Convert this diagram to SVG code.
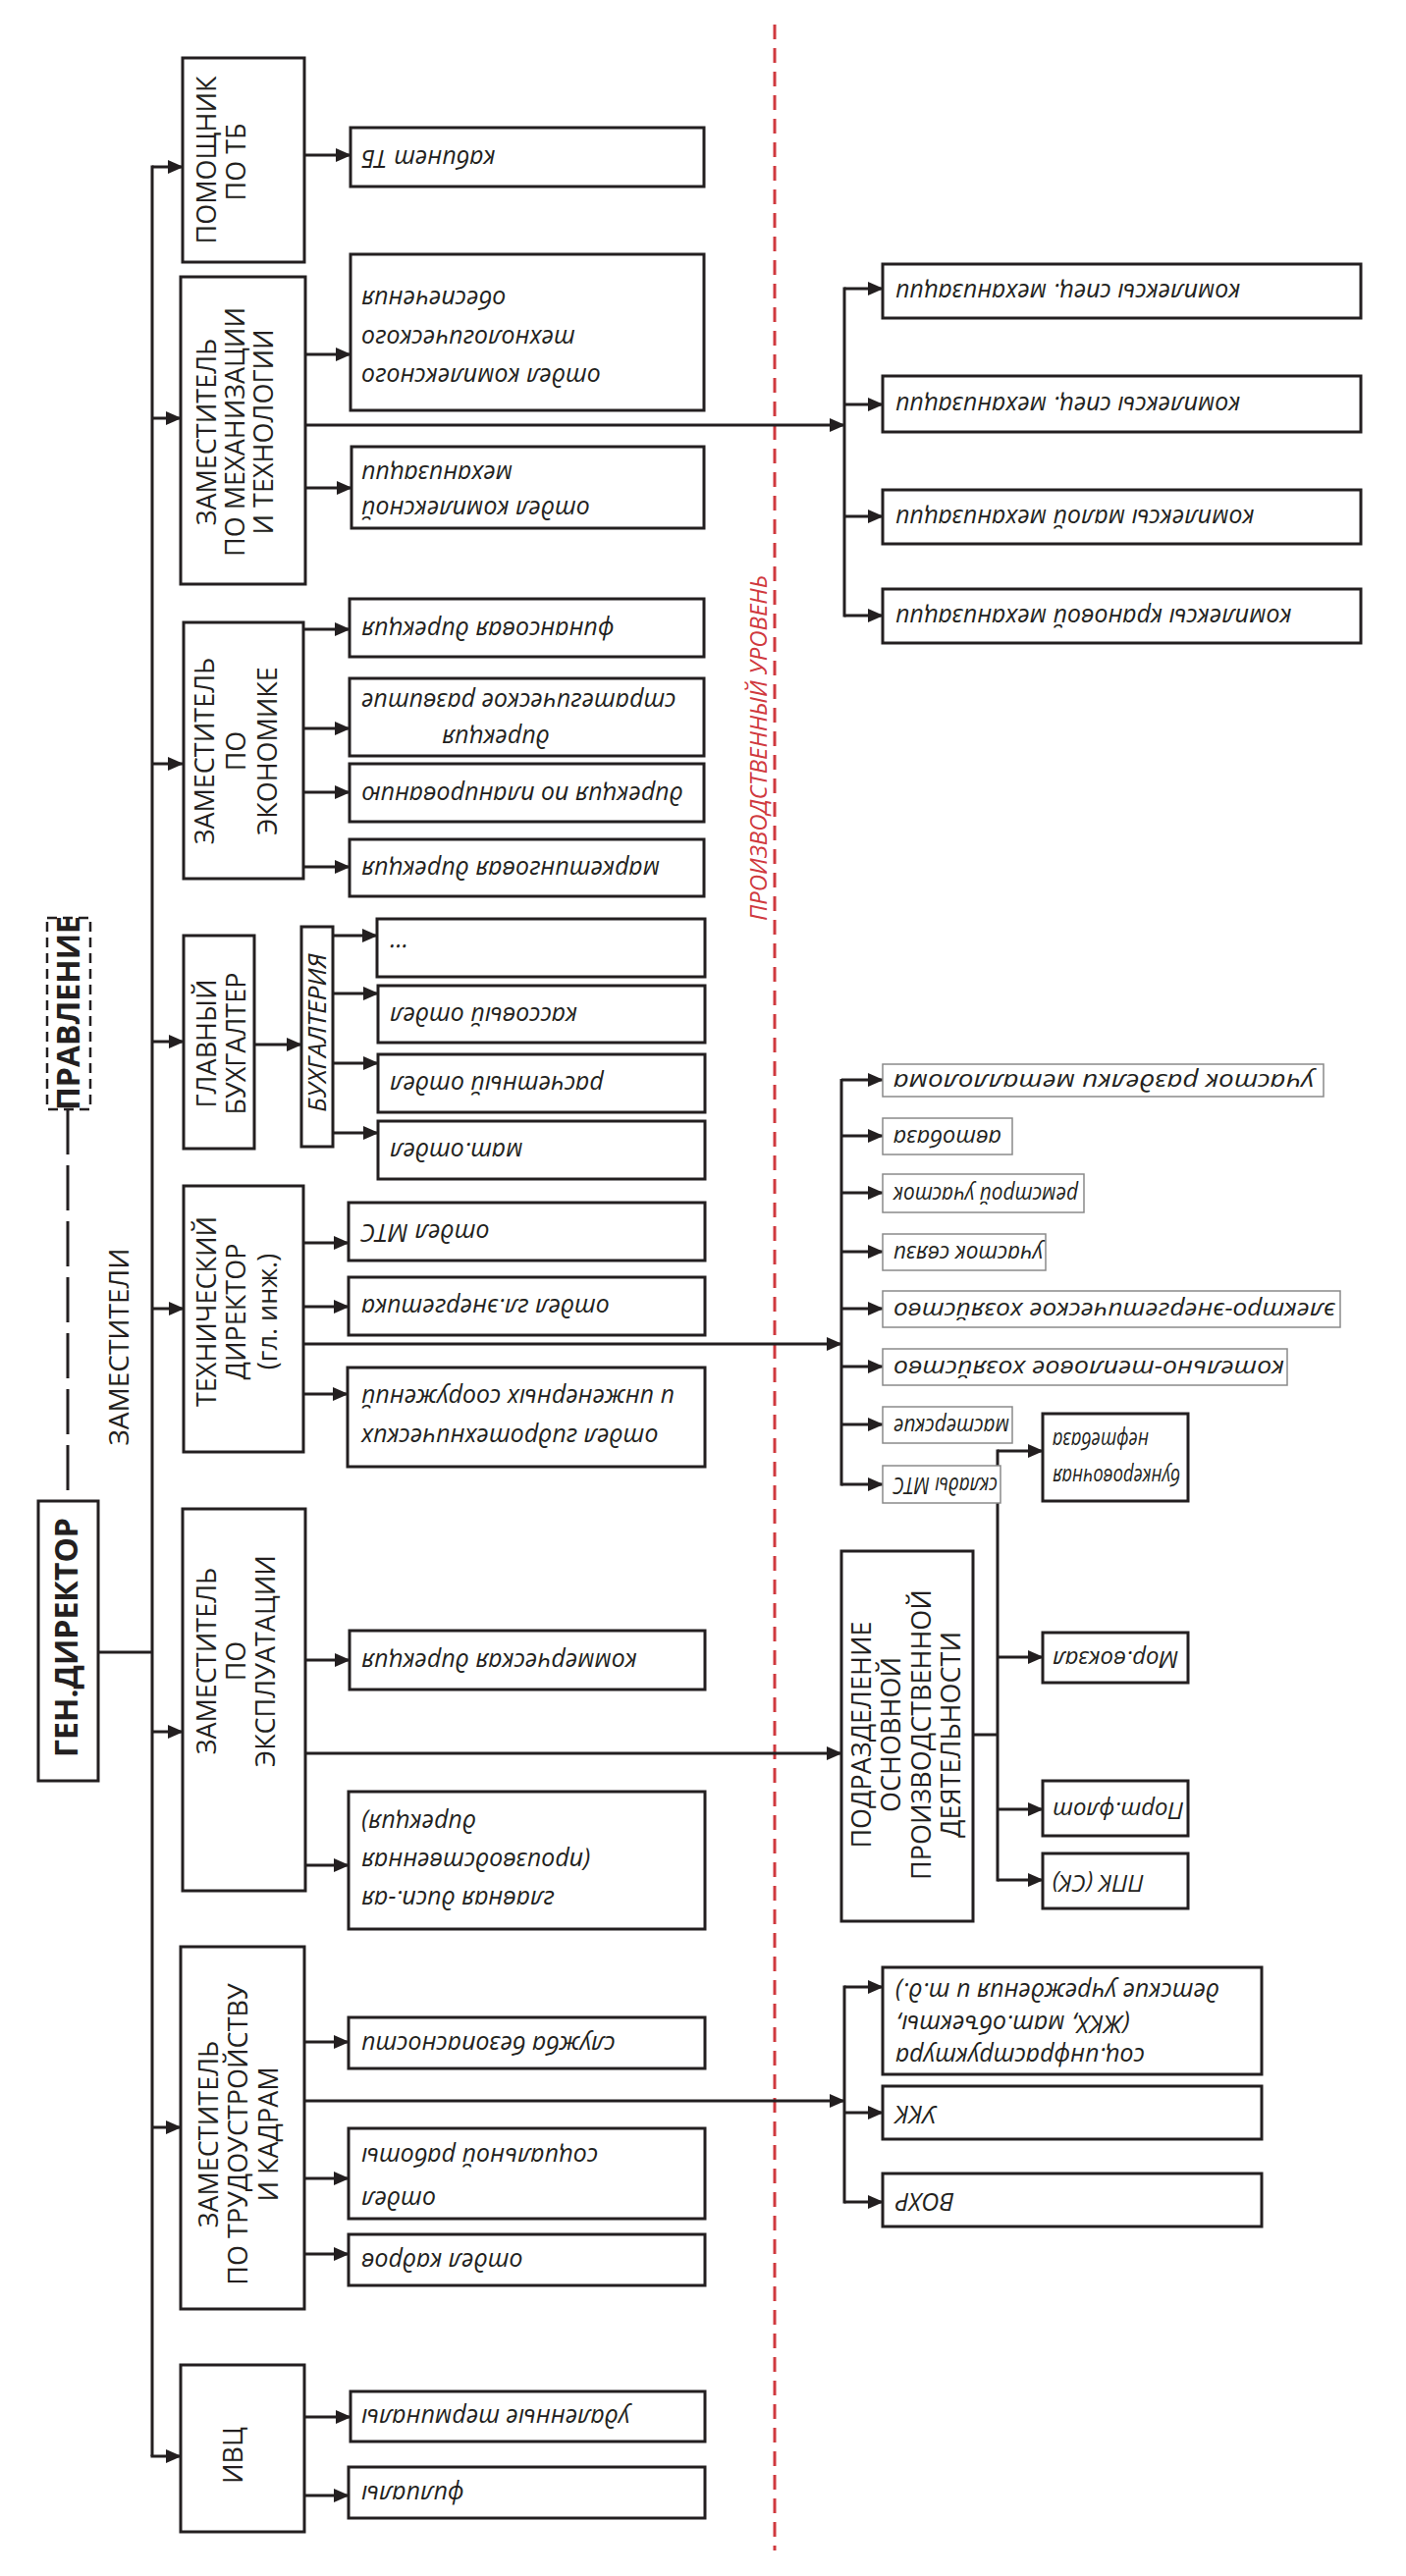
<svg xmlns="http://www.w3.org/2000/svg" width="1432" height="2624" viewBox="0 0 1432 2624">
<defs>
<style>
.bx{fill:#fff;stroke:#231f20;stroke-width:3}
.tb{fill:#fff;stroke:#8a8a8a;stroke-width:1.5}
.ln{fill:none;stroke:#231f20;stroke-width:3}
.ar{fill:none;stroke:#231f20;stroke-width:3;marker-end:url(#ah)}
.up{font-family:"Open Sans","Noto Sans",sans-serif;font-size:27px;fill:#231f20;text-anchor:middle}
.it{font-family:"Open Sans","Noto Sans",sans-serif;font-style:italic;font-size:25px;fill:#231f20;text-anchor:end}
.its{font-family:"Open Sans","Noto Sans",sans-serif;font-style:italic;font-size:24px;fill:#231f20;text-anchor:end}
.bd{font-family:"Open Sans","Noto Sans",sans-serif;font-weight:bold;font-size:32px;fill:#231f20;text-anchor:middle}
</style>
<marker id="ah" markerWidth="16" markerHeight="14" refX="15" refY="7" orient="auto" markerUnits="userSpaceOnUse"><path d="M0,0 L16,7 L0,14 z" fill="#231f20"/></marker>
</defs>
<rect width="1432" height="2624" fill="#fff"/>

<!-- red dashed boundary -->
<line x1="789" y1="25" x2="789" y2="2598" stroke="#d0393e" stroke-width="3" stroke-dasharray="15,9"/>
<text transform="rotate(-90 781 762)" x="781" y="762" style="font-family:'Open Sans',sans-serif;font-style:italic;font-size:24px;fill:#d0393e;text-anchor:middle">ПРОИЗВОДСТВЕННЫЙ УРОВЕНЬ</text>

<g id="connectors">
<line x1="69" y1="1130" x2="69" y2="1529" stroke="#231f20" stroke-width="3" stroke-dasharray="46,11"/>
<polyline class="ln" points="100,1683 155,1683"/>
<line class="ln" x1="155" y1="168.5" x2="155" y2="2502"/>
<line class="ar" x1="155" y1="170" x2="186" y2="170"/>
<line class="ar" x1="155" y1="426" x2="184" y2="426"/>
<line class="ar" x1="155" y1="778" x2="186" y2="778"/>
<line class="ar" x1="155" y1="1061" x2="187" y2="1061"/>
<line class="ar" x1="155" y1="1333" x2="187" y2="1333"/>
<line class="ar" x1="155" y1="1764" x2="186" y2="1764"/>
<line class="ar" x1="155" y1="2167" x2="184" y2="2167"/>
<line class="ar" x1="153.5" y1="2502" x2="184" y2="2502"/>
<line class="ar" x1="310" y1="158" x2="357" y2="158"/>
<line class="ar" x1="311" y1="361" x2="357" y2="361"/>
<line class="ar" x1="311" y1="497" x2="358" y2="497"/>
<line class="ar" x1="311" y1="433" x2="860" y2="433"/>
<line class="ln" x1="860" y1="292.5" x2="860" y2="628.5"/>
<line class="ar" x1="860" y1="294" x2="899" y2="294"/>
<line class="ar" x1="860" y1="412" x2="899" y2="412"/>
<line class="ar" x1="860" y1="526" x2="899" y2="526"/>
<line class="ar" x1="860" y1="627" x2="899" y2="627"/>
<line class="ar" x1="309" y1="641" x2="356" y2="641"/>
<line class="ar" x1="309" y1="742" x2="356" y2="742"/>
<line class="ar" x1="309" y1="807" x2="356" y2="807"/>
<line class="ar" x1="309" y1="883" x2="356" y2="883"/>
<line class="ar" x1="259" y1="1064" x2="307" y2="1064"/>
<line class="ar" x1="339" y1="953" x2="384" y2="953"/>
<line class="ar" x1="339" y1="1012" x2="385" y2="1012"/>
<line class="ar" x1="339" y1="1083" x2="385" y2="1083"/>
<line class="ar" x1="339" y1="1154" x2="385" y2="1154"/>
<line class="ar" x1="309" y1="1266" x2="355" y2="1266"/>
<line class="ar" x1="309" y1="1331" x2="355" y2="1331"/>
<line class="ar" x1="309" y1="1420" x2="354" y2="1420"/>
<line class="ar" x1="309" y1="1369" x2="857" y2="1369"/>
<line class="ln" x1="857" y1="1099" x2="857" y2="1513.5"/>
<line class="ar" x1="857" y1="1100" x2="899" y2="1100"/>
<line class="ar" x1="857" y1="1157" x2="899" y2="1157"/>
<line class="ar" x1="857" y1="1215" x2="899" y2="1215"/>
<line class="ar" x1="857" y1="1275" x2="899" y2="1275"/>
<line class="ar" x1="857" y1="1333" x2="899" y2="1333"/>
<line class="ar" x1="857" y1="1392" x2="899" y2="1392"/>
<line class="ar" x1="857" y1="1451" x2="899" y2="1451"/>
<line class="ar" x1="857" y1="1512" x2="899" y2="1512"/>
<line class="ar" x1="311" y1="1691" x2="356" y2="1691"/>
<line class="ar" x1="311" y1="1900" x2="355" y2="1900"/>
<line class="ar" x1="311" y1="1786" x2="857" y2="1786"/>
<line class="ln" x1="991" y1="1767" x2="1016" y2="1767"/>
<line class="ln" x1="1016" y1="1476.5" x2="1016" y2="1916.5"/>
<line class="ar" x1="1016" y1="1478" x2="1062" y2="1478"/>
<line class="ar" x1="1016" y1="1688" x2="1062" y2="1688"/>
<line class="ar" x1="1016" y1="1843" x2="1062" y2="1843"/>
<line class="ar" x1="1016" y1="1915" x2="1062" y2="1915"/>
<line class="ar" x1="310" y1="2080" x2="355" y2="2080"/>
<line class="ar" x1="310" y1="2219" x2="355" y2="2219"/>
<line class="ar" x1="310" y1="2296" x2="355" y2="2296"/>
<line class="ar" x1="310" y1="2140" x2="860" y2="2140"/>
<line class="ln" x1="860" y1="2022.5" x2="860" y2="2244.5"/>
<line class="ar" x1="860" y1="2024" x2="899" y2="2024"/>
<line class="ar" x1="860" y1="2152" x2="899" y2="2152"/>
<line class="ar" x1="860" y1="2243" x2="899" y2="2243"/>
<line class="ar" x1="310" y1="2462" x2="357" y2="2462"/>
<line class="ar" x1="310" y1="2542" x2="355" y2="2542"/>
</g>

<g id="pravlenie">
<rect x="48" y="935" width="44" height="195" fill="#fff" stroke="#231f20" stroke-width="2.5" stroke-dasharray="10,6"/>
<text class="bd" transform="rotate(-90 81 1032)" x="81" y="1032">ПРАВЛЕНИЕ</text>
</g>
<g id="zamestiteli">
<text class="up" transform="rotate(-90 131 1372)" x="131" y="1372" style="font-size:28px">ЗАМЕСТИТЕЛИ</text>
</g>
<g id="gen">
<rect class="bx" x="39" y="1529" width="61" height="285"/>
<text class="bd" transform="rotate(-90 79 1668)" x="79" y="1668">ГЕН.ДИРЕКТОР</text>
</g>

<g id="pomoshnik">
<rect class="bx" x="186" y="59" width="124" height="208"/>
<text class="up" transform="rotate(-90 220 163)" x="220" y="163">ПОМОЩНИК</text>
<text class="up" transform="rotate(-90 250 165)" x="250" y="165">ПО ТБ</text>
</g>
<g id="kabinet">
<rect class="bx" x="357" y="130" width="360" height="60"/>
<text class="it" transform="rotate(180 368 153)" x="368" y="153">кабинет ТБ</text>
</g>

<g id="zam-mech">
<rect class="bx" x="184" y="282" width="127" height="313"/>
<text class="up" transform="rotate(-90 220 440)" x="220" y="440">ЗАМЕСТИТЕЛЬ</text>
<text class="up" transform="rotate(-90 249 440)" x="249" y="440">ПО МЕХАНИЗАЦИИ</text>
<text class="up" transform="rotate(-90 278 440)" x="278" y="440">И ТЕХНОЛОГИИ</text>
</g>
<g id="otdel-tech">
<rect class="bx" x="357" y="259" width="360" height="159"/>
<text class="it" transform="rotate(180 368 375)" x="368" y="375">отдел комплексного</text>
<text class="it" transform="rotate(180 368 336)" x="368" y="336">технологического</text>
<text class="it" transform="rotate(180 368 296)" x="368" y="296">обеспечения</text>
</g>
<g id="otdel-mech">
<rect class="bx" x="358" y="455" width="359" height="83"/>
<text class="it" transform="rotate(180 368 510)" x="368" y="510">отдел комплексной</text>
<text class="it" transform="rotate(180 368 474)" x="368" y="474">механизации</text>
</g>

<g id="kompl-1"><rect class="bx" x="899" y="269" width="487" height="55"/>
<text class="it" transform="rotate(180 912 289)" x="912" y="289">комплексы спец. механизации</text></g>
<g id="kompl-2"><rect class="bx" x="899" y="383" width="487" height="57"/>
<text class="it" transform="rotate(180 912 404)" x="912" y="404">комплексы спец. механизации</text></g>
<g id="kompl-3"><rect class="bx" x="899" y="499" width="487" height="55"/>
<text class="it" transform="rotate(180 912 519)" x="912" y="519">комплексы малой механизации</text></g>
<g id="kompl-4"><rect class="bx" x="899" y="600" width="487" height="55"/>
<text class="it" transform="rotate(180 912 620)" x="912" y="620">комплексы крановой механизации</text></g>

<g id="zam-econ">
<rect class="bx" x="187" y="634" width="122" height="261"/>
<text class="up" transform="rotate(-90 218 765)" x="218" y="765">ЗАМЕСТИТЕЛЬ</text>
<text class="up" transform="rotate(-90 250 765)" x="250" y="765">ПО</text>
<text class="up" transform="rotate(-90 282 765)" x="282" y="765">ЭКОНОМИКЕ</text>
</g>
<g id="fin"><rect class="bx" x="356" y="610" width="361" height="59"/>
<text class="it" transform="rotate(180 368 633)" x="368" y="633">финансовая дирекция</text></g>
<g id="strat"><rect class="bx" x="356" y="691" width="361" height="79"/>
<text class="it" transform="rotate(180 450 743)" x="450" y="743">дирекция</text>
<text class="it" transform="rotate(180 368 706)" x="368" y="706">стратегическое развитие</text></g>
<g id="plan"><rect class="bx" x="356" y="778" width="361" height="59"/>
<text class="it" transform="rotate(180 368 801)" x="368" y="801">дирекция по планированию</text></g>
<g id="market"><rect class="bx" x="356" y="855" width="361" height="58"/>
<text class="it" transform="rotate(180 368 877)" x="368" y="877">маркетинговая дирекция</text></g>

<g id="glbuh">
<rect class="bx" x="187" y="953" width="72" height="217"/>
<text class="up" transform="rotate(-90 220 1063)" x="220" y="1063">ГЛАВНЫЙ</text>
<text class="up" transform="rotate(-90 250 1063)" x="250" y="1063">БУХГАЛТЕР</text>
</g>
<g id="buhgalteria">
<rect class="bx" x="307" y="944" width="32" height="224"/>
<text transform="rotate(-90 332 1052)" x="332" y="1052" style="font-family:'Open Sans',sans-serif;font-style:italic;font-size:26px;fill:#231f20;text-anchor:middle">БУХГАЛТЕРИЯ</text>
</g>
<g id="dots"><rect class="bx" x="384" y="936" width="334" height="59"/>
<text class="it" transform="rotate(180 395 962)" x="395" y="962">...</text></g>
<g id="kass"><rect class="bx" x="385" y="1004" width="333" height="58"/>
<text class="it" transform="rotate(180 397 1026)" x="397" y="1026">кассовый отдел</text></g>
<g id="rasch"><rect class="bx" x="385" y="1074" width="333" height="59"/>
<text class="it" transform="rotate(180 397 1096)" x="397" y="1096">расчетный отдел</text></g>
<g id="mat"><rect class="bx" x="385" y="1142" width="333" height="59"/>
<text class="it" transform="rotate(180 397 1164)" x="397" y="1164">мат.отдел</text></g>

<g id="tech">
<rect class="bx" x="187" y="1208" width="122" height="271"/>
<text class="up" transform="rotate(-90 220 1336)" x="220" y="1336">ТЕХНИЧЕСКИЙ</text>
<text class="up" transform="rotate(-90 250 1336)" x="250" y="1336">ДИРЕКТОР</text>
<text class="up" transform="rotate(-90 282 1336)" x="282" y="1336">(гл. инж.)</text>
</g>
<g id="mts"><rect class="bx" x="355" y="1225" width="363" height="59"/>
<text class="it" transform="rotate(180 368 1247)" x="368" y="1247">отдел МТС</text></g>
<g id="energ"><rect class="bx" x="355" y="1301" width="363" height="59"/>
<text class="it" transform="rotate(180 368 1323)" x="368" y="1323">отдел гл.энергетика</text></g>
<g id="gidro"><rect class="bx" x="354" y="1393" width="364" height="101"/>
<text class="it" transform="rotate(180 368 1455)" x="368" y="1455">отдел гидротехнических</text>
<text class="it" transform="rotate(180 368 1415)" x="368" y="1415">и инженерных сооружений</text></g>

<g id="p1"><rect class="tb" x="899" y="1084" width="449" height="33"/>
<text class="its" transform="rotate(180 910 1094)" x="910" y="1094" textLength="428" lengthAdjust="spacingAndGlyphs">участок разделки металлолома</text></g>
<g id="p2"><rect class="tb" x="899" y="1139" width="132" height="37"/>
<text class="its" transform="rotate(180 910 1151)" x="910" y="1151" textLength="110" lengthAdjust="spacingAndGlyphs">автобаза</text></g>
<g id="p3"><rect class="tb" x="899" y="1196" width="205" height="39"/>
<text class="its" transform="rotate(180 910 1209)" x="910" y="1209" textLength="188" lengthAdjust="spacingAndGlyphs">ремстрой участок</text></g>
<g id="p4"><rect class="tb" x="899" y="1257" width="166" height="37"/>
<text class="its" transform="rotate(180 910 1269)" x="910" y="1269" textLength="152" lengthAdjust="spacingAndGlyphs">участок связи</text></g>
<g id="p5"><rect class="tb" x="899" y="1315" width="466" height="37"/>
<text class="its" transform="rotate(180 910 1327)" x="910" y="1327" textLength="450" lengthAdjust="spacingAndGlyphs">электро-энергетическое хозяйство</text></g>
<g id="p6"><rect class="tb" x="899" y="1374" width="412" height="37"/>
<text class="its" transform="rotate(180 910 1386)" x="910" y="1386" textLength="398" lengthAdjust="spacingAndGlyphs">котельно-тепловое хозяйство</text></g>
<g id="p7"><rect class="tb" x="899" y="1433" width="132" height="37"/>
<text class="its" transform="rotate(180 910 1445)" x="910" y="1445" textLength="118" lengthAdjust="spacingAndGlyphs">мастерские</text></g>
<g id="p8"><rect class="tb" x="899" y="1493" width="120" height="38"/>
<text class="its" transform="rotate(180 910 1505)" x="910" y="1505" textLength="106" lengthAdjust="spacingAndGlyphs">склады МТС</text></g>

<g id="zam-expl">
<rect class="bx" x="186" y="1537" width="125" height="389"/>
<text class="up" transform="rotate(-90 220 1692)" x="220" y="1692">ЗАМЕСТИТЕЛЬ</text>
<text class="up" transform="rotate(-90 250 1692)" x="250" y="1692">ПО</text>
<text class="up" transform="rotate(-90 280 1692)" x="280" y="1692">ЭКСПЛУАТАЦИИ</text>
</g>
<g id="komm"><rect class="bx" x="356" y="1661" width="362" height="60"/>
<text class="it" transform="rotate(180 368 1684)" x="368" y="1684">коммерческая дирекция</text></g>
<g id="glavnaya"><rect class="bx" x="355" y="1825" width="363" height="140"/>
<text class="it" transform="rotate(180 368 1926)" x="368" y="1926">главная дисп.-ая</text>
<text class="it" transform="rotate(180 368 1887)" x="368" y="1887">(производственная</text>
<text class="it" transform="rotate(180 368 1848)" x="368" y="1848">дирекция)</text></g>

<g id="podrazd">
<rect class="bx" x="857" y="1580" width="134" height="377"/>
<text class="up" transform="rotate(-90 887 1767)" x="887" y="1767">ПОДРАЗДЕЛЕНИЕ</text>
<text class="up" transform="rotate(-90 917 1767)" x="917" y="1767">ОСНОВНОЙ</text>
<text class="up" transform="rotate(-90 948 1767)" x="948" y="1767">ПРОИЗВОДСТВЕННОЙ</text>
<text class="up" transform="rotate(-90 978 1767)" x="978" y="1767">ДЕЯТЕЛЬНОСТИ</text>
</g>
<g id="bunker"><rect class="bx" x="1062" y="1440" width="148" height="89"/>
<text class="its" transform="rotate(180 1072 1496)" x="1072" y="1496" textLength="130" lengthAdjust="spacingAndGlyphs">бункеровочная</text>
<text class="its" transform="rotate(180 1072 1459)" x="1072" y="1459" textLength="98" lengthAdjust="spacingAndGlyphs">нефтебаза</text></g>
<g id="morvokzal"><rect class="bx" x="1062" y="1663" width="148" height="51"/>
<text class="its" transform="rotate(180 1072 1682)" x="1072" y="1682">Мор.вокзал</text></g>
<g id="portflot"><rect class="bx" x="1062" y="1814" width="148" height="56"/>
<text class="its" transform="rotate(180 1072 1836)" x="1072" y="1836">Порт.флот</text></g>
<g id="ppk"><rect class="bx" x="1062" y="1888" width="148" height="56"/>
<text class="its" transform="rotate(180 1072 1910)" x="1072" y="1910">ППК (СК)</text></g>

<g id="zam-trud">
<rect class="bx" x="184" y="1983" width="126" height="369"/>
<text class="up" transform="rotate(-90 222 2174)" x="222" y="2174">ЗАМЕСТИТЕЛЬ</text>
<text class="up" transform="rotate(-90 252 2174)" x="252" y="2174">ПО ТРУДОУСТРОЙСТВУ</text>
<text class="up" transform="rotate(-90 283 2174)" x="283" y="2174">И КАДРАМ</text>
</g>
<g id="sluzhba"><rect class="bx" x="355" y="2055" width="363" height="52"/>
<text class="it" transform="rotate(180 368 2074)" x="368" y="2074">служба безопасности</text></g>
<g id="social"><rect class="bx" x="355" y="2168" width="363" height="92"/>
<text class="it" transform="rotate(180 368 2232)" x="368" y="2232">отдел</text>
<text class="it" transform="rotate(180 368 2188)" x="368" y="2188">социальной работы</text></g>
<g id="kadry"><rect class="bx" x="355" y="2276" width="363" height="52"/>
<text class="it" transform="rotate(180 368 2295)" x="368" y="2295">отдел кадров</text></g>

<g id="socinfra"><rect class="bx" x="899" y="2004" width="386" height="109"/>
<text class="it" transform="rotate(180 912 2086)" x="912" y="2086">соц.инфраструктура</text>
<text class="it" transform="rotate(180 912 2053)" x="912" y="2053">(ЖКХ, мат.объекты,</text>
<text class="it" transform="rotate(180 912 2020)" x="912" y="2020">детские учреждения и т.д.)</text></g>
<g id="ukk"><rect class="bx" x="899" y="2125" width="386" height="54"/>
<text class="it" transform="rotate(180 912 2145)" x="912" y="2145">УКК</text></g>
<g id="vohr"><rect class="bx" x="899" y="2214" width="386" height="54"/>
<text class="it" transform="rotate(180 912 2234)" x="912" y="2234">ВОХР</text></g>

<g id="ivc">
<rect class="bx" x="184" y="2409" width="126" height="170"/>
<text class="up" transform="rotate(-90 247 2501)" x="247" y="2501">ИВЦ</text>
</g>
<g id="udal"><rect class="bx" x="357" y="2436" width="361" height="51"/>
<text class="it" transform="rotate(180 368 2454)" x="368" y="2454">удаленные терминалы</text></g>
<g id="filialy"><rect class="bx" x="355" y="2513" width="363" height="52"/>
<text class="it" transform="rotate(180 368 2532)" x="368" y="2532">филиалы</text></g>
</svg>
